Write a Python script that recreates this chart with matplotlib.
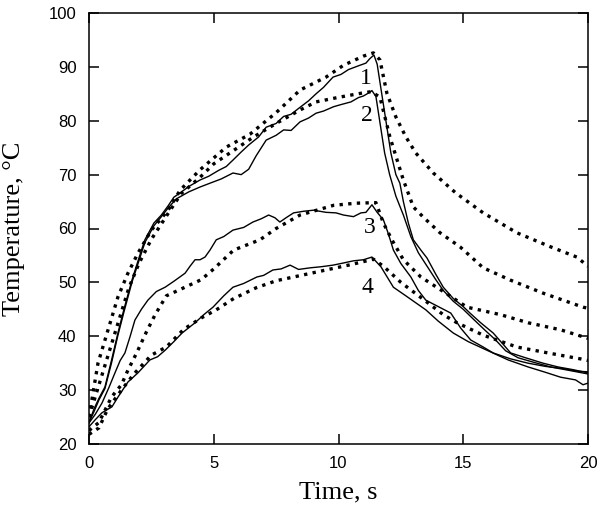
import matplotlib
matplotlib.use("Agg")
import matplotlib.pyplot as plt


# Curve 1, measured (solid)
time_1 = [0, 0.2, 0.4, 0.64, 0.9, 1.16, 1.4, 1.72, 2.0, 2.24, 2.6, 2.9, 3.17, 3.4, 3.65, 4.0,
          4.45, 4.8, 5.2, 5.5, 5.77, 6.1, 6.4, 6.8, 7.1, 7.5, 7.8, 8.1, 8.46, 8.8, 9.1, 9.4,
          9.78, 10.1, 10.4, 10.8, 11.1, 11.25, 11.42, 11.55, 11.7, 11.9, 12.1, 12.3, 12.46,
          12.6, 12.8, 13.0, 13.3, 13.55, 13.9, 14.2, 14.6, 15.0, 15.27, 15.7, 16.2, 16.6,
          16.9, 17.5, 18.2, 18.8, 19.4, 20]
temp_1 = [24.0, 26.5, 28.5, 30.6, 35.5, 40.6, 45.0, 50.4, 54.5, 57.9, 61.0, 62.5, 64.2, 65.8,
          66.6, 67.8, 69.0, 69.7, 70.8, 71.5, 72.7, 74.2, 75.5, 77.0, 78.8, 79.5, 80.8, 81.2,
          82.5, 83.7, 85.0, 86.2, 88.1, 88.6, 89.5, 90.2, 90.7, 91.5, 92.2, 90.5, 86.0, 80.0,
          74.0, 70.0, 68.4, 65.0, 61.0, 57.9, 56.0, 54.5, 51.5, 49.1, 47.0, 45.5, 44.3, 42.5,
          40.6, 38.5, 36.9, 36.0, 35.0, 34.3, 33.8, 33.2]

# Curve 2, measured (solid)
time_2 = [0, 0.2, 0.4, 0.64, 0.9, 1.16, 1.4, 1.72, 2.0, 2.24, 2.6, 2.9, 3.17, 3.5, 4.0, 4.45,
          4.9, 5.3, 5.77, 6.1, 6.4, 6.7, 7.1, 7.5, 7.8, 8.1, 8.46, 8.8, 9.1, 9.4, 9.8, 10.1,
          10.5, 10.8, 11.0, 11.26, 11.34, 11.5, 11.65, 11.85, 12.05, 12.3, 12.6, 12.9, 13.2,
          13.55, 13.9, 14.2, 14.6, 15.0, 15.4, 15.9, 16.3, 16.7, 17.2, 17.8, 18.5, 19.2, 20]
temp_2 = [24.0, 26.0, 28.2, 30.3, 35.0, 40.2, 44.5, 50.0, 54.0, 57.4, 60.5, 62.2, 63.8, 65.5,
          66.8, 67.7, 68.5, 69.2, 70.3, 70.0, 71.0, 73.5, 76.4, 77.3, 78.3, 78.2, 79.8, 80.5,
          81.4, 81.8, 82.6, 83.0, 83.5, 84.3, 84.6, 85.3, 85.6, 84.5, 80.0, 74.0, 70.0, 66.0,
          62.5, 58.5, 55.5, 53.0, 50.5, 48.5, 46.5, 45.0, 43.2, 41.0, 39.3, 37.3, 36.0, 35.2,
          34.3, 33.7, 33.0]

# Curve 3, measured (solid)
time_3 = [0, 0.25, 0.52, 0.8, 1.04, 1.25, 1.44, 1.65, 1.84, 2.1, 2.36, 2.7, 3.05, 3.4, 3.85,
          4.05, 4.25, 4.45, 4.65, 4.85, 5.1, 5.4, 5.77, 6.2, 6.57, 6.9, 7.2, 7.45, 7.65, 7.9,
          8.2, 8.6, 9.0, 9.5, 9.9, 10.2, 10.6, 10.9, 11.1, 11.34, 11.55, 11.8, 12.0, 12.2,
          12.5, 12.9, 13.2, 13.5, 14.0, 14.5, 14.9, 15.3, 15.8, 16.2, 16.9, 17.6, 18.3, 19.0,
          19.6, 20]
temp_3 = [23.9, 25.5, 27.6, 30.5, 33.2, 35.5, 36.9, 40.0, 43.0, 45.0, 46.7, 48.3, 49.1, 50.2,
          51.7, 53.0, 54.2, 54.2, 54.7, 56.0, 57.9, 58.5, 59.7, 60.2, 61.2, 61.8, 62.5, 62.0,
          61.2, 62.0, 62.9, 63.2, 63.4, 63.0, 62.9, 62.5, 62.2, 62.9, 63.0, 64.4, 63.0, 61.6,
          59.0, 56.0, 53.5, 51.0, 48.5, 46.7, 45.5, 44.3, 41.5, 39.3, 38.0, 36.9, 35.8, 35.0,
          34.4, 34.0, 33.5, 33.4]

# Curve 4, measured (solid)
time_4 = [0, 0.25, 0.52, 0.92, 1.16, 1.56, 1.96, 2.44, 2.75, 3.05, 3.4, 3.73, 4.25, 4.6, 4.97,
          5.4, 5.77, 6.2, 6.73, 7.0, 7.37, 7.7, 8.06, 8.4, 8.86, 9.3, 9.78, 10.2, 10.6, 11.0,
          11.34, 11.7, 12.2, 12.7, 13.1, 13.5, 14.0, 14.6, 15.2, 15.95, 16.8, 17.6, 18.3,
          18.9, 19.5, 19.8, 20]
temp_4 = [23.2, 24.5, 25.8, 26.9, 28.7, 31.5, 33.2, 35.6, 36.2, 37.4, 39.0, 40.6, 42.5, 44.0,
          45.4, 47.5, 49.1, 49.8, 51.0, 51.3, 52.3, 52.5, 53.2, 52.4, 52.7, 52.9, 53.2, 53.6,
          54.0, 54.2, 54.7, 52.9, 49.1, 47.5, 46.2, 44.9, 42.8, 40.6, 39.0, 37.4, 35.6, 34.3,
          33.3, 32.4, 31.9, 31.0, 31.3]

# Calculated curves (dotted)
calc_time_1 = [0, 0.36, 0.64, 0.92, 1.16, 1.56, 1.96, 2.5, 3.17, 3.65, 4.45, 5.5, 6.45, 7.5,
               8.46, 9.5, 10.2, 11.0, 11.4, 11.66, 11.94, 12.3, 12.7, 13.1, 13.8, 14.7, 15.8,
               17.15, 18.5, 19.55, 20]
calc_temp_1 = [25.0, 35.0, 39.3, 43.6, 47.3, 51.7, 55.4, 59.7, 63.4, 67.1, 70.9, 75.1, 77.5,
               81.5, 85.7, 88.1, 90.3, 92.0, 92.6, 91.3, 85.1, 80.7, 77.0, 74.0, 70.3, 66.6,
               62.9, 59.2, 56.6, 54.7, 53.0]

calc_time_2 = [0, 0.4, 0.8, 1.2, 1.6, 2.0, 2.5, 3.2, 3.7, 4.45, 5.0, 5.8, 6.6, 7.5, 8.46, 9.1,
               10.06, 10.9, 11.3, 11.66, 12.06, 12.6, 13.0, 13.4, 14.07, 14.87, 15.8, 16.9,
               18.2, 19.8, 20]
calc_temp_2 = [25.0, 31.0, 37.0, 43.0, 49.0, 53.5, 58.0, 63.0, 66.5, 69.5, 72.0, 74.5, 77.0,
               79.5, 82.0, 83.5, 84.4, 85.1, 85.4, 84.4, 77.0, 69.0, 64.0, 62.1, 59.2, 56.6,
               52.7, 50.4, 48.0, 45.4, 45.2]

calc_time_3 = [0, 0.4, 0.9, 1.3, 1.56, 1.92, 2.3, 2.65, 3.1, 3.8, 4.5, 5.0, 5.8, 6.85, 7.5,
               8.46, 9.8, 10.7, 11.5, 11.8, 12.14, 12.6, 13.3, 14.1, 15.15, 16.5, 17.6, 18.9,
               19.8, 20]
calc_temp_3 = [22.5, 24.0, 28.7, 31.0, 33.7, 37.0, 40.8, 44.0, 47.5, 49.0, 50.5, 52.5, 56.0,
               57.9, 60.0, 62.5, 64.3, 64.7, 64.8, 61.0, 57.9, 54.2, 51.0, 48.6, 45.4, 44.0,
               42.5, 41.2, 39.9, 39.6]

calc_time_4 = [0, 0.4, 0.75, 1.3, 1.8, 2.5, 3.1, 3.8, 4.5, 5.1, 5.8, 6.7, 7.5, 8.5, 9.5, 10.5,
               11.4, 11.8, 12.5, 13.5, 14.2, 14.75, 15.8, 17.15, 18.4, 19.7, 20]
calc_temp_4 = [21.8, 23.0, 26.5, 30.0, 33.0, 36.5, 38.0, 41.3, 43.4, 44.9, 47.0, 49.0, 50.3,
               51.3, 52.3, 53.3, 54.3, 53.0, 50.0, 46.5, 44.0, 42.5, 40.2, 38.0, 36.9, 35.8,
               35.5]

curve_labels = ["1", "2", "3", "4"]
label_time = [11.1, 11.14, 11.26, 11.14]
label_temp = [87.9, 80.9, 60.1, 49.0]

x_ticks = [0, 5, 10, 15, 20]
y_ticks = [20, 30, 40, 50, 60, 70, 80, 90, 100]


def main() -> None:
    fig = plt.figure(figsize=(6.0, 5.21), dpi=100)
    ax = fig.add_axes([89 / 600, 77 / 521, 499 / 600, 431 / 521])

    # Measured curves
    for t, y in [(time_1, temp_1), (time_2, temp_2), (time_3, temp_3), (time_4, temp_4)]:
        ax.plot(t, y, color="black", linewidth=1.0)

    # Calculated curves
    for t, y in [(calc_time_1, calc_temp_1), (calc_time_2, calc_temp_2),
                 (calc_time_3, calc_temp_3), (calc_time_4, calc_temp_4)]:
        ax.plot(t, y, color="black", linewidth=2.4, linestyle=(0, (1, 1.6)),
                dash_capstyle="butt")

    # Curve numbers
    for text, t, y in zip(curve_labels, label_time, label_temp):
        ax.text(t, y, text, fontsize=17, family="Liberation Serif",
                ha="center", va="center")

    ax.set_xlim(0, 20)
    ax.set_ylim(20, 100)
    ax.set_xticks(x_ticks)
    ax.set_yticks(y_ticks)
    ax.tick_params(direction="in", length=7, width=1.1, top=True, right=True,
                   labelsize=12, pad=9)
    for label in ax.get_xticklabels() + ax.get_yticklabels():
        label.set_family("Liberation Sans")
    for spine in ax.spines.values():
        spine.set_linewidth(1.1)

    fig.text(338.5 / 600, 1 - 492 / 521, "Time, s", fontsize=19,
             family="Liberation Serif", ha="center", va="center")
    fig.text(14 / 600, 1 - 229 / 521, "Temperature, °C", fontsize=19,
             family="Liberation Serif", rotation=90, ha="center", va="center")

    fig.savefig("out.png", dpi=100)


if __name__ == "__main__":
    main()
